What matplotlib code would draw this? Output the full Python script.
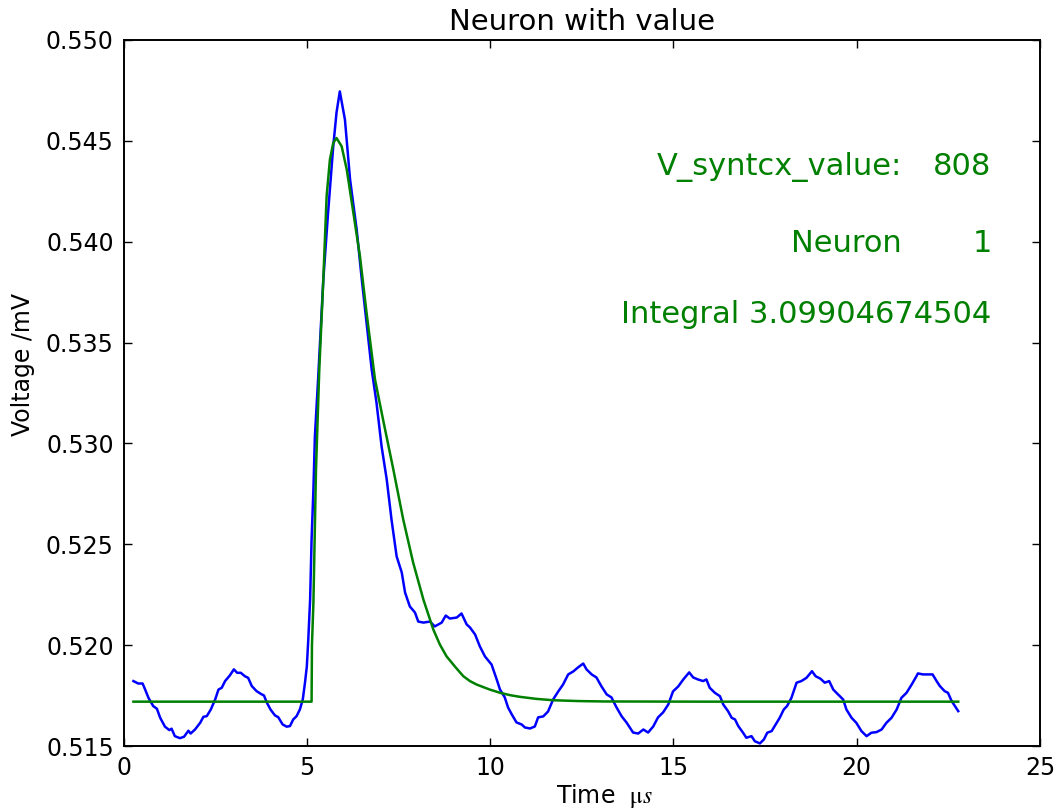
import numpy as np
import matplotlib
matplotlib.use("Agg")
import matplotlib.pyplot as plt

t_meas = [0.27, 0.40, 0.52, 0.59, 0.68, 0.81, 0.91, 1.00, 1.13, 1.25, 1.31, 1.40, 1.54, 1.65,
          1.77, 1.83, 1.95, 2.09, 2.18, 2.27, 2.38, 2.50, 2.59, 2.68, 2.77, 2.90, 3.01, 3.10,
          3.20, 3.31, 3.40, 3.50, 3.63, 3.77, 3.83, 3.91, 4.01, 4.13, 4.22, 4.34, 4.45, 4.54,
          4.63, 4.72, 4.81, 4.89, 4.95, 5.00, 5.04, 5.09, 5.13, 5.18, 5.22, 5.31, 5.45, 5.58,
          5.72, 5.81, 5.90, 6.04, 6.18, 6.36, 6.50, 6.68, 6.77, 6.90, 7.04, 7.18, 7.31, 7.45,
          7.59, 7.68, 7.81, 7.95, 8.04, 8.18, 8.36, 8.49, 8.68, 8.79, 8.90, 9.09, 9.22, 9.36,
          9.45, 9.59, 9.72, 9.86, 10.04, 10.18, 10.27, 10.40, 10.49, 10.59, 10.72, 10.86, 10.95,
          11.09, 11.22, 11.31, 11.45, 11.58, 11.72, 11.86, 11.99, 12.13, 12.27, 12.40, 12.54,
          12.63, 12.77, 12.90, 13.04, 13.18, 13.31, 13.45, 13.59, 13.72, 13.90, 14.04, 14.18,
          14.31, 14.45, 14.58, 14.72, 14.86, 14.99, 15.13, 15.27, 15.43, 15.54, 15.67, 15.81,
          15.90, 15.99, 16.13, 16.27, 16.36, 16.49, 16.59, 16.68, 16.77, 16.90, 16.99, 17.13,
          17.22, 17.36, 17.47, 17.56, 17.68, 17.79, 17.90, 18.01, 18.10, 18.22, 18.36, 18.49,
          18.63, 18.78, 18.88, 19.01, 19.13, 19.25, 19.36, 19.49, 19.63, 19.72, 19.86, 19.99,
          20.13, 20.27, 20.40, 20.54, 20.68, 20.81, 20.95, 21.09, 21.22, 21.36, 21.50, 21.63,
          21.67, 21.81, 21.95, 22.07, 22.18, 22.27, 22.40, 22.49, 22.59, 22.68, 22.77]
v_meas = [0.51822, 0.51810, 0.51810, 0.51780, 0.51739, 0.51698, 0.51685, 0.51640, 0.51596,
          0.51579, 0.51586, 0.51549, 0.51539, 0.51546, 0.51576, 0.51562, 0.51582, 0.51615,
          0.51645, 0.51648, 0.51681, 0.51731, 0.51780, 0.51789, 0.51822, 0.51850, 0.51880,
          0.51863, 0.51863, 0.51846, 0.51838, 0.51797, 0.51772, 0.51756, 0.51751, 0.51715,
          0.51681, 0.51652, 0.51643, 0.51607, 0.51596, 0.51599, 0.51632, 0.51648, 0.51681,
          0.51731, 0.51814, 0.51894, 0.52028, 0.52226, 0.52524, 0.52771, 0.53034, 0.53326,
          0.53812, 0.54144, 0.54471, 0.54640, 0.54745, 0.54605, 0.54308, 0.54060, 0.53812,
          0.53515, 0.53366, 0.53203, 0.52985, 0.52821, 0.52623, 0.52440, 0.52360, 0.52261,
          0.52192, 0.52162, 0.52117, 0.52112, 0.52117, 0.52093, 0.52112, 0.52147, 0.52132,
          0.52137, 0.52157, 0.52103, 0.52088, 0.52053, 0.51994, 0.51944, 0.51904, 0.51830,
          0.51780, 0.51741, 0.51691, 0.51657, 0.51617, 0.51607, 0.51592, 0.51587, 0.51597,
          0.51642, 0.51647, 0.51671, 0.51731, 0.51771, 0.51805, 0.51855, 0.51870, 0.51890,
          0.51909, 0.51880, 0.51855, 0.51840, 0.51795, 0.51756, 0.51741, 0.51691, 0.51647,
          0.51617, 0.51567, 0.51562, 0.51582, 0.51567, 0.51597, 0.51642, 0.51667, 0.51706,
          0.51771, 0.51795, 0.51830, 0.51865, 0.51840, 0.51830, 0.51822, 0.51830, 0.51789,
          0.51764, 0.51747, 0.51706, 0.51673, 0.51640, 0.51632, 0.51599, 0.51566, 0.51541,
          0.51549, 0.51524, 0.51513, 0.51533, 0.51566, 0.51574, 0.51607, 0.51640, 0.51681,
          0.51698, 0.51739, 0.51814, 0.51822, 0.51838, 0.51871, 0.51846, 0.51834, 0.51814,
          0.51822, 0.51780, 0.51756, 0.51731, 0.51681, 0.51640, 0.51615, 0.51574, 0.51549,
          0.51566, 0.51569, 0.51582, 0.51615, 0.51640, 0.51681, 0.51739, 0.51764, 0.51805,
          0.51846, 0.51860, 0.51855, 0.51855, 0.51855, 0.51822, 0.51797, 0.51772, 0.51764,
          0.51723, 0.51698, 0.51673]

# fitted curve (green)
t_fit = [0.27, 5.13, 5.14, 5.18, 5.25, 5.34, 5.45, 5.54, 5.63, 5.72, 5.81, 5.95, 6.09, 6.27,
         6.45, 6.63, 6.86, 7.08, 7.36, 7.63, 7.90, 8.18, 8.45, 8.63, 8.81, 9.05, 9.27, 9.45,
         9.63, 9.99, 10.27, 10.55, 10.81, 11.25, 11.72, 12.40, 13.08, 15.72, 22.77]
v_fit = [0.51720, 0.51720, 0.52000, 0.52212, 0.52871, 0.53366, 0.53812, 0.54225, 0.54407,
         0.54489, 0.54514, 0.54473, 0.54357, 0.54143, 0.53927, 0.53647, 0.53317, 0.53118,
         0.52871, 0.52623, 0.52410, 0.52226, 0.52078, 0.52003, 0.51945, 0.51892, 0.51846,
         0.51822, 0.51805, 0.51780, 0.51764, 0.51752, 0.51744, 0.51734, 0.51727, 0.51723,
         0.51721, 0.51720, 0.51720]

info_labels = ["V_syntcx_value:", "Neuron"]
info_values = ["808", "1"]
integral = "3.09904674504"

plt.rcParams["mathtext.fontset"] = "stix"
fig = plt.figure(figsize=(10.54, 8.11), dpi=100)
ax = fig.add_axes([0.1172, 0.0801, 0.8695, 0.8706])

ax.plot(t_meas, v_meas, color="#0000ff", lw=1.8)
ax.plot(t_fit, v_fit, color="#008000", lw=1.8)

ax.set_xlim(0, 25)
ax.set_ylim(0.515, 0.550)
ax.set_xticks(np.arange(0, 26, 5))
ax.set_yticks(np.arange(0.515, 0.5501, 0.005))
ax.yaxis.set_major_formatter(matplotlib.ticker.FormatStrFormatter("%.3f"))
ax.tick_params(direction="in", length=6, width=1, labelsize=17, pad=7,
               top=True, right=True)
for s in ax.spines.values():
    s.set_linewidth(1.4)

ax.set_title("Neuron with value", fontsize=21, pad=7)
ax.set_xlabel("Time  $\\mathrm{\\mu}s$", fontsize=17, va="center")
ax.xaxis.set_label_coords(0.525, -0.071)
ax.set_ylabel("Voltage /mV", fontsize=17, va="center")
ax.yaxis.set_label_coords(-0.110, 0.541)

rows_y = [0.8088, 0.7001]
for lab, val, yy in zip(info_labels, info_values, rows_y):
    ax.text(0.8491, yy, lab, transform=ax.transAxes, ha="right", va="baseline",
            fontsize=22, color="#008000")
    ax.text(0.9473, yy, val, transform=ax.transAxes, ha="right", va="baseline",
            fontsize=22, color="#008000")
ax.text(0.9473, 0.5992, "Integral " + integral, transform=ax.transAxes, ha="right",
        va="baseline", fontsize=22, color="#008000")

fig.savefig("out.png", dpi=100)
